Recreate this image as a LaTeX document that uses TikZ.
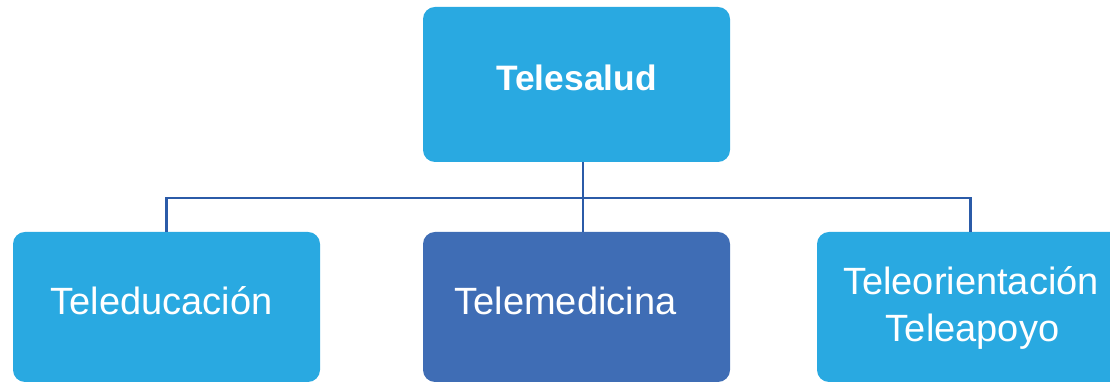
\documentclass[tikz,border=0pt]{standalone}
\usepackage{fontspec}
\setmainfont{Liberation Sans}
\definecolor{lightblue}{HTML}{29A9E1}
\definecolor{darkblue}{HTML}{3F6DB5}
\definecolor{linecol}{HTML}{2B5BA8}
\begin{document}
\begin{tikzpicture}[x=0.75pt,y=0.75pt,
  box/.style={fill=lightblue, draw=none, rounded corners=9pt, inner sep=0pt,
    minimum width=230.25pt, minimum height=112.5pt},
  topbox/.style={box, minimum height=116.25pt},
  darkbox/.style={box, fill=darkblue},
  txt/.style={text=white, anchor=base, inner sep=0pt, font=\fontsize{28.5}{34}\selectfont},
  btxt/.style={txt, font=\fontsize{26.5}{32}\selectfont\bfseries},
  conn/.style={draw=linecol, line width=2.2pt}]
\useasboundingbox (0,0) rectangle (1110,384);
\clip (0,0) rectangle (1110,384);
\node[topbox] (top) at (576.5,299.5) {};
\node[box] (left) at (166.5,77) {};
\node[darkbox] (mid) at (576.5,77) {};
\node[box] (right) at (970.5,77) {};
\coordinate (bus) at (583,186);
\draw[conn] (top.south -| bus) -- (mid.north -| bus);
\draw[conn] (left.north) |- (bus) -| (right.north);
\node[btxt] (t1) at (576.5,293) {Telesalud};
\node[txt] (t2) at (161.5,69) {Teleducación};
\node[txt] (t3) at (565.5,69) {Telemedicina};
\node[txt] (t4) at (971,89) {Teleorientación};
\node[txt] (t5) at (972.5,42.3) {Teleapoyo};
\end{tikzpicture}
\end{document}
